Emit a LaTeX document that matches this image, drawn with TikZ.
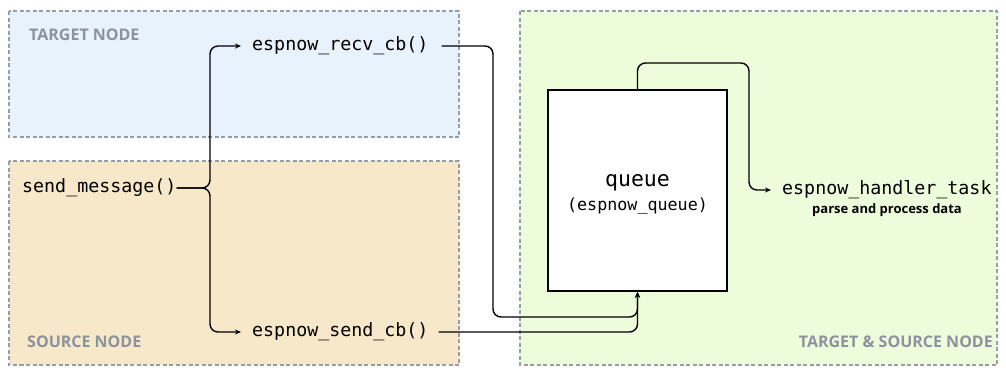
\documentclass[tikz,border=0pt]{standalone}
\usepackage{fontspec}
\setmainfont{Open Sans}
\setmonofont{DejaVu Sans Mono}
\usetikzlibrary{arrows.meta}
\definecolor{zoneblue}{RGB}{232,242,253}
\definecolor{zonetan}{RGB}{246,232,200}
\definecolor{zonegreen}{RGB}{237,252,218}
\definecolor{zoneedge}{RGB}{152,158,168}
\definecolor{zonelabel}{RGB}{140,147,158}
\tikzset{
  zone/.style={draw=zoneedge, line width=1.4pt, dash pattern=on 4pt off 2.5pt},
  zonetitle/.style={text=zonelabel, font=\fontsize{16}{18}\selectfont\bfseries, inner sep=0pt},
  func/.style={font=\ttfamily\fontsize{18.3}{20}\selectfont, inner sep=0pt},
  flow/.style={line width=1.4pt, rounded corners=8pt},
  tip/.style={-{Stealth[length=6pt,width=5pt]}},
  queuebox/.style={draw, line width=1.4pt, fill=white, minimum width=179pt, minimum height=201pt, inner sep=0pt}
}
\begin{document}
\begin{tikzpicture}[x=1pt,y=-1pt]
\useasboundingbox (0,0) rectangle (1006,367);

% zones
\draw[zone, fill=zoneblue] (9,11) rectangle (459,137);
\draw[zone, fill=zonetan] (9,161) rectangle (459,365);
\draw[zone, fill=zonegreen] (520,11) rectangle (997,365);
\node[zonetitle, anchor=west] (ttarget) at (29,35) {TARGET NODE};
\node[zonetitle, anchor=west] (tsource) at (27,342) {SOURCE NODE};
\node[zonetitle, anchor=east] (tboth) at (993,342) {TARGET \& SOURCE NODE};

% functions
\node[func, anchor=west] (msg) at (22,188) {send\_message()};
\node[func, anchor=west] (recv) at (252,46) {espnow\_recv\_cb()};
\node[func, anchor=west] (send) at (252,332) {espnow\_send\_cb()};
\node[queuebox, label={[name=qtext, align=center, inner sep=0pt, yshift=-4pt]center:%
  {\ttfamily\fontsize{21.5}{28}\selectfont queue}\\[5pt]{\ttfamily\fontsize{16.7}{20}\selectfont (espnow\_queue)}}]
  (queue) at (637.5,190.5) {};
\node[func, anchor=west] (handler) at (782,190) {espnow\_handler\_task};
\node[font=\fontsize{13}{15}\selectfont\bfseries, inner sep=0pt, anchor=north] (parse) at (887,203) {parse and process data};

% connectors
\coordinate (fork) at (210,188);
\draw[flow, tip] (msg.east) -- (fork) -- (fork |- recv) -- ([xshift=-11pt]recv.west);
\draw[flow, tip] (msg.east) -- (fork) -- (fork |- send) -- ([xshift=-11pt]send.west);
\draw[flow, tip] ([xshift=13pt]recv.east) -- (493,46) -- (493,317) -- (queue.south |- 0,317) -- (queue.south);
\draw[flow, tip] ([xshift=10pt]send.east) -- (queue.south |- send) -- (queue.south);
\draw[flow, tip] (queue.north) -- (637.5,63) -- (749,63) -- (749,190) -- ([xshift=-11pt]handler.west);
\end{tikzpicture}
\end{document}
